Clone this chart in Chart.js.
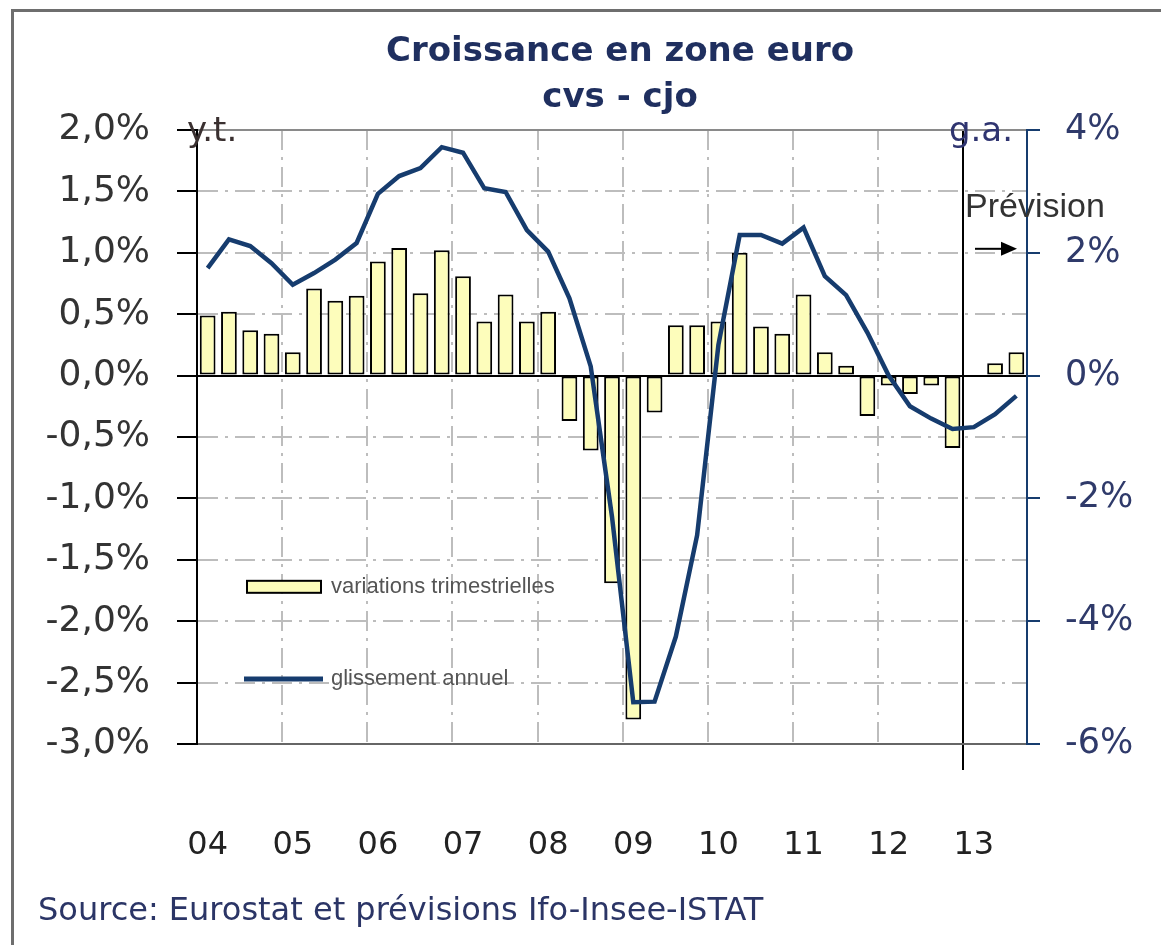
<!DOCTYPE html>
<html>
<head>
<meta charset="utf-8">
<script src="https://cdn.jsdelivr.net/npm/chart.js@4"></script>
<style>
  html, body { margin: 0; padding: 0; background: #fff; overflow: hidden; }
  #frame { position: absolute; left: 11px; top: 9px; width: 1200px; height: 1000px; border: 3px solid #6e6e6e; }
  #chart { position: absolute; left: 0; top: 0; }
</style>
</head>
<body>
<div id="frame"></div>
<canvas id="chart" width="1161" height="945"></canvas>
<script>
// Trimestres 2004T1 .. 2013T3 (39 points), étiquettes d'année sur T1
const yearLabels = ['04', '05', '06', '07', '08', '09', '10', '11', '12', '13'];
const quarters = [];
for (let y = 2004; y <= 2013; y++) {
  for (let q = 1; q <= 4; q++) {
    if (y === 2013 && q === 4) break;
    quarters.push(y + 'T' + q);
  }
}

// variations trimestrielles (axe gauche, %)
const variationsTrim = [
  0.49, 0.52, 0.37, 0.34,
  0.19, 0.71, 0.61, 0.65,
  0.93, 1.04, 0.67, 1.02,
  0.81, 0.44, 0.66, 0.44,
  0.52, -0.37, -0.61, -1.69,
  -2.80, -0.30, 0.41, 0.41,
  0.44, 1.00, 0.40, 0.34,
  0.66, 0.19, 0.08, -0.33,
  -0.08, -0.15, -0.08, -0.59,
  0.0, 0.10, 0.19,
];

// glissement annuel (axe droit, %)
const glissementAnnuel = [
  1.75, 2.22, 2.11, 1.83,
  1.48, 1.67, 1.89, 2.16,
  2.96, 3.25, 3.38, 3.72,
  3.63, 3.05, 2.99, 2.37,
  2.02, 1.26, 0.15, -2.30,
  -5.32, -5.31, -4.25, -2.60,
  0.50, 2.29, 2.29, 2.15,
  2.41, 1.62, 1.31, 0.70,
  0.0, -0.50, -0.70, -0.87,
  -0.84, -0.63, -0.33,
];

const titleLines = ['Croissance en zone euro', 'cvs - cjo'];

const FORECAST_INDEX = 36; // début de la prévision (2013T1)
const NAVY = '#163c6e';
const BAR_FILL = '#fdfdbb';
const GRID = '#bdbdbd';
const DASH_DOT = [20, 7, 3, 7];

// Titre, textes et légende dessinés par-dessus le graphique
const overlay = {
  id: 'overlay',
  afterDraw(chart) {
    const { ctx, chartArea, scales } = chart;
    const y = scales.y;
    ctx.save();

    // titre centré sur la zone de tracé
    ctx.font = 'bold 34px "DejaVu Sans"';
    ctx.fillStyle = '#1f2f5f';
    ctx.textAlign = 'center';
    ctx.textBaseline = 'middle';
    const cx = (chartArea.left + chartArea.right) / 2 + 8;
    ctx.fillText(titleLines[0], cx, 52);
    ctx.fillText(titleLines[1], cx, 98);

    // unités des axes
    ctx.font = '34px "DejaVu Sans"';
    ctx.fillStyle = '#3a3030';
    ctx.textAlign = 'left';
    ctx.fillText('y.t.', chartArea.left - 10, chartArea.top + 2);
    ctx.fillStyle = '#2f3470';
    ctx.textAlign = 'right';
    ctx.fillText('g.a.', chartArea.right - 14, chartArea.top + 2);

    // Prévision + flèche
    ctx.font = '34px "Liberation Sans"';
    ctx.fillStyle = '#333';
    ctx.textAlign = 'left';
    ctx.fillText('Prévision', chartArea.right - 62, 208);
    const ya = scales.y2.getPixelForValue(2) - 4;
    ctx.strokeStyle = '#000';
    ctx.lineWidth = 2;
    ctx.beginPath();
    ctx.moveTo(chartArea.right - 52, ya);
    ctx.lineTo(chartArea.right - 22, ya);
    ctx.stroke();
    ctx.fillStyle = '#000';
    ctx.beginPath();
    ctx.moveTo(chartArea.right - 10, ya);
    ctx.lineTo(chartArea.right - 26, ya - 7);
    ctx.lineTo(chartArea.right - 26, ya + 7);
    ctx.closePath();
    ctx.fill();

    // légende
    const lx = chartArea.left + 50;
    const yb = y.getPixelForValue(-1.72);
    ctx.fillStyle = BAR_FILL;
    ctx.fillRect(lx, yb - 6, 74, 12);
    ctx.strokeStyle = '#000';
    ctx.lineWidth = 2;
    ctx.strokeRect(lx, yb - 6, 74, 12);
    const yl = y.getPixelForValue(-2.47);
    ctx.strokeStyle = NAVY;
    ctx.lineWidth = 5;
    ctx.beginPath();
    ctx.moveTo(lx - 3, yl);
    ctx.lineTo(lx + 76, yl);
    ctx.stroke();
    ctx.font = '22px "Liberation Sans"';
    ctx.fillStyle = '#555';
    ctx.fillText('variations trimestrielles', lx + 84, yb);
    ctx.fillText('glissement annuel', lx + 84, yl);

    // source
    ctx.font = '32px "DejaVu Sans"';
    ctx.fillStyle = '#2b3566';
    ctx.fillText('Source: Eurostat et prévisions Ifo-Insee-ISTAT', 38, 912);
    ctx.restore();
  },
};

new Chart(document.getElementById('chart'), {
  data: {
    labels: quarters,
    datasets: [
      {
        type: 'line',
        label: 'glissement annuel',
        data: glissementAnnuel,
        yAxisID: 'y2',
        borderColor: NAVY,
        borderWidth: 4.5,
        pointRadius: 0,
        tension: 0,
        order: 0,
      },
      {
        type: 'bar',
        label: 'variations trimestrielles',
        data: variationsTrim,
        yAxisID: 'y',
        backgroundColor: BAR_FILL,
        borderColor: '#000',
        borderWidth: 2,
        borderSkipped: false,
        barPercentage: 0.74,
        categoryPercentage: 1,
        order: 1,
      },
    ],
  },
  options: {
    responsive: false,
    animation: false,
    devicePixelRatio: 1,
    layout: { padding: { top: 130, bottom: 71, left: 0, right: 0 } },
    plugins: {
      legend: { display: false },
      tooltip: { enabled: false },
      title: { display: false },
    },
    scales: {
      x: {
        type: 'category',
        offset: true,
        afterFit: (s) => { s.height = 130; },
        grid: {
          offset: true,
          lineWidth: 2,
          color: (c) => {
            if (c.index === FORECAST_INDEX) return '#000';
            if (c.index > 0 && c.index < quarters.length && c.index % 4 === 0) return GRID;
            return 'rgba(0,0,0,0)';
          },
          tickColor: (c) => (c.index === FORECAST_INDEX ? '#000' : 'rgba(0,0,0,0)'),
          tickLength: 26,
        },
        border: {
          color: '#666',
          width: 2,
          dash: (c) => (c.tick && c.index !== FORECAST_INDEX ? DASH_DOT : []),
        },
        ticks: {
          autoSkip: false,
          maxRotation: 0,
          padding: 56,
          color: '#222',
          font: { family: '"DejaVu Sans"', size: 32 },
          callback: (v, i) => (i % 4 === 0 ? yearLabels[i / 4] : ''),
        },
      },
      y: {
        position: 'left',
        min: -3,
        max: 2,
        afterFit: (s) => { s.width = 197; },
        grid: {
          lineWidth: 2,
          color: (c) => {
            if (!c.tick) return GRID;
            if (c.tick.value === 0) return '#000';
            if (c.tick.value === 2) return '#8a8a8a';
            if (c.tick.value === -3) return '#666';
            return GRID;
          },
          tickColor: '#000',
          tickLength: 20,
        },
        border: {
          color: '#000',
          width: 2,
          dash: (c) => {
            if (!c.tick) return [];
            const v = c.tick.value;
            return v === 0 || v === 2 || v === -3 ? [] : DASH_DOT;
          },
        },
        ticks: {
          stepSize: 0.5,
          padding: 27,
          color: '#333',
          font: { family: '"DejaVu Sans"', size: 36 },
          callback: (v) => v.toFixed(1).replace('.', ',') + '%',
        },
      },
      y2: {
        position: 'right',
        min: -6,
        max: 4,
        afterFit: (s) => { s.width = 134; },
        grid: {
          drawOnChartArea: false,
          tickColor: NAVY,
          tickLength: 13,
          lineWidth: 2,
        },
        border: { color: NAVY, width: 2 },
        ticks: {
          stepSize: 2,
          padding: 25,
          color: '#2f3a6a',
          font: { family: '"DejaVu Sans"', size: 35 },
          callback: (v) => v + '%',
        },
      },
    },
  },
  plugins: [overlay],
});
</script>
</body>
</html>
